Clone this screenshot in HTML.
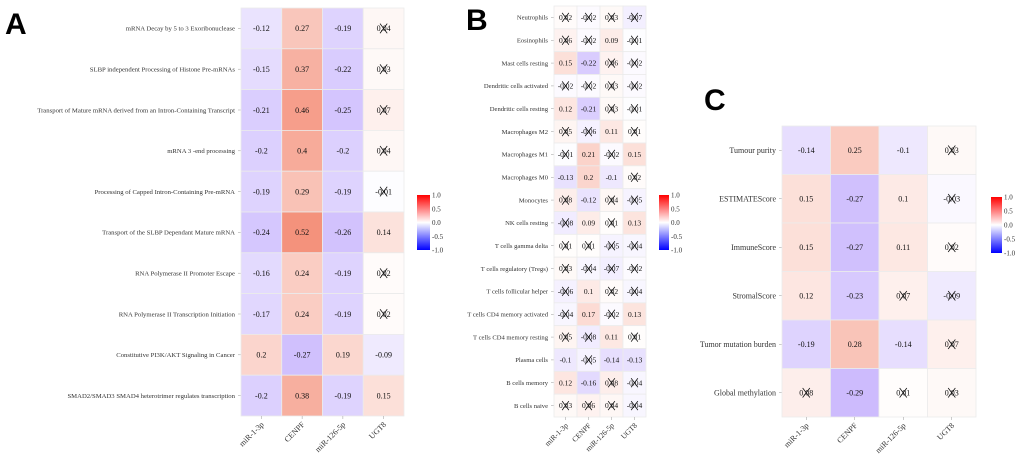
<!DOCTYPE html>
<html><head><meta charset="utf-8"><style>
body{margin:0;background:#fff;width:1020px;height:460px;overflow:hidden}
#fig text.s{font-family:"Liberation Serif","Times New Roman","DejaVu Serif",serif}
</style></head><body>
<svg id="fig" width="1020" height="460" xmlns="http://www.w3.org/2000/svg">
<defs><linearGradient id="cb" x1="0" y1="0" x2="0" y2="1">
<stop offset="0" stop-color="#ff0000"/><stop offset="0.5" stop-color="#ffffff"/><stop offset="1" stop-color="#0000ff"/></linearGradient></defs>
<text x="5" y="34" font-weight="bold" font-size="30" font-family="Liberation Sans, sans-serif">A</text>
<text x="466" y="30" font-weight="bold" font-size="30" font-family="Liberation Sans, sans-serif">B</text>
<text x="704" y="110" font-weight="bold" font-size="30" font-family="Liberation Sans, sans-serif">C</text>
</svg>
<script>
const cols = ["miR-1-3p","CENPF","miR-126-5p","UGT8"];
const rowsA = ["mRNA Decay by 5  to 3  Exoribonuclease","SLBP independent Processing of Histone Pre-mRNAs","Transport of Mature mRNA derived from an Intron-Containing Transcript","mRNA 3 -end processing","Processing of Capped Intron-Containing Pre-mRNA","Transport of the SLBP Dependant Mature mRNA","RNA Polymerase II Promoter Escape","RNA Polymerase II Transcription Initiation","Constitutive PI3K/AKT Signaling in Cancer","SMAD2/SMAD3 SMAD4 heterotrimer regulates transcription"];
const valsA = [[-0.12,0.27,-0.19,0.04],[-0.15,0.37,-0.22,0.03],[-0.21,0.46,-0.25,0.07],[-0.2,0.4,-0.2,0.04],[-0.19,0.29,-0.19,-0.01],[-0.24,0.52,-0.26,0.14],[-0.16,0.24,-0.19,0.02],[-0.17,0.24,-0.19,0.02],[0.2,-0.27,0.19,-0.09],[-0.2,0.38,-0.19,0.15]];
const sigA = [[1,1,1,0],[1,1,1,0],[1,1,1,0],[1,1,1,0],[1,1,1,0],[1,1,1,1],[1,1,1,0],[1,1,1,0],[1,1,1,1],[1,1,1,1]];
const rowsB = ["Neutrophils","Eosinophils","Mast cells resting","Dendritic cells activated","Dendritic cells resting","Macrophages M2","Macrophages M1","Macrophages M0","Monocytes","NK cells resting","T cells gamma delta","T cells regulatory (Tregs)","T cells follicular helper","T cells CD4 memory activated","T cells CD4 memory resting","Plasma cells","B cells memory","B cells naive"];
const valsB = [[0.02,-0.02,0.03,-0.07],[0.06,-0.02,0.09,-0.01],[0.15,-0.22,0.06,-0.02],[-0.02,-0.02,0.03,-0.02],[0.12,-0.21,0.03,-0.01],[0.05,-0.06,0.11,0.01],[-0.01,0.21,-0.02,0.15],[-0.13,0.2,-0.1,0.02],[0.08,-0.12,0.04,-0.05],[-0.08,0.09,0.01,0.13],[0.01,0.01,-0.05,-0.04],[0.03,-0.04,-0.07,-0.02],[-0.06,0.1,0.02,-0.04],[-0.04,0.17,-0.02,0.13],[0.05,-0.08,0.11,0.01],[-0.1,-0.05,-0.14,-0.13],[0.12,-0.16,0.08,-0.04],[0.03,0.06,0.04,-0.04]];
const sigB = [[0,0,0,0],[0,0,1,0],[1,1,0,0],[0,0,0,0],[1,1,0,0],[0,0,1,0],[0,1,0,1],[1,1,1,0],[0,1,0,0],[0,1,0,1],[0,0,0,0],[0,0,0,0],[0,1,0,0],[0,1,0,1],[0,0,1,0],[1,0,1,1],[1,1,0,0],[0,0,0,0]];
const rowsC = ["Tumour purity","ESTIMATEScore","ImmuneScore","StromalScore","Tumor mutation burden","Global methylation"];
const valsC = [[-0.14,0.25,-0.1,0.03],[0.15,-0.27,0.1,-0.03],[0.15,-0.27,0.11,0.02],[0.12,-0.23,0.07,-0.09],[-0.19,0.28,-0.14,0.07],[0.08,-0.29,0.01,0.03]];
const sigC = [[1,1,1,0],[1,1,1,0],[1,1,1,0],[1,1,0,0],[1,1,1,0],[0,1,0,0]];

const NS="http://www.w3.org/2000/svg", svg=document.getElementById('fig');
function mk(tag,attrs,parent){const e=document.createElementNS(NS,tag);for(const k in attrs)e.setAttribute(k,attrs[k]);(parent||svg).appendChild(e);return e;}
function txt(attrs,parent,str){const t=mk('text',attrs,parent);t.setAttribute('class','s');t.style.fontFamily='"Liberation Serif","Times New Roman","DejaVu Serif",serif';t.textContent=str;return t;}
function color(v){const a=Math.min(1,Math.abs(v)*1.2);
 const end=v>=0?[238,80,45]:[110,60,250];
 const c=end.map(x=>Math.round(255+(x-255)*a));return `rgb(${c[0]},${c[1]},${c[2]})`;}
function fmt(v){return String(v);}

function panel(id,rows,vals,sig,x0,x1,y0,y1,fs,lfs,cbx,cby,cbw,cbh){
 const g=mk('g',{});
 
 
 const cw=(x1-x0)/cols.length, rh=(y1-y0)/rows.length;
 const xc=j=>x0+cw*(j+0.5), yc=i=>y0+rh*(i+0.5);
 rows.forEach((r,i)=>{
  const t=txt({x:x0-6,y:yc(i)+lfs*0.35,'text-anchor':'end','font-size':lfs,fill:'#333'},g,r);
  
  
  mk('line',{x1:x0-3,x2:x0,y1:yc(i),y2:yc(i),stroke:'#999','stroke-width':0.5},g);
  cols.forEach((c,j)=>{
   const v=vals[i][j];
   const rc=mk('rect',{x:x0+cw*j,y:y0+rh*i,width:cw,height:rh,fill:color(v),stroke:'#ebebeb','stroke-width':0.8},g);
   
   
   const tx=txt({x:xc(j),y:yc(i)+fs*0.35,'text-anchor':'middle','font-size':fs,fill:'#111'},g,fmt(v));
   
   
   if(!sig[i][j]){const h=fs*0.6,w=fs*0.45;
    mk('line',{x1:xc(j)-w,y1:yc(i)-h,x2:xc(j)+w,y2:yc(i)+h,stroke:'#111','stroke-width':0.8},g);
    mk('line',{x1:xc(j)-w,y1:yc(i)+h,x2:xc(j)+w,y2:yc(i)-h,stroke:'#111','stroke-width':0.8},g);}
  });
 });
 cols.forEach((c,j)=>{
  mk('line',{x1:xc(j),x2:xc(j),y1:y1,y2:y1+3,stroke:'#999','stroke-width':0.5},g);
  const t=txt({x:xc(j)+3,y:y1+9,'text-anchor':'end','font-size':fs,fill:'#333',transform:`rotate(-45 ${xc(j)+3} ${y1+9})`},g,c);
  
  
 });
 const cb=mk('rect',{x:cbx,y:cby,width:cbw,height:cbh,fill:'url(#cb)'},g);
 
 
 ["1.0","0.5","0.0","-0.5","-1.0"].forEach((l,k)=>{
  const t=txt({x:cbx+cbw+2,y:cby+cbh*k/4+2.5,'font-size':7,fill:'#333'},g,l);
  
  
 });
}
panel('panel-a',rowsA,valsA,sigA,241,404,8,416,8,6.7,417,195,13,55);
panel('panel-b',rowsB,valsB,sigB,554,646,6,417,7.5,6.6,659,195,10,55);
panel('panel-c',rowsC,valsC,sigC,782,976,126,417,8,8,991,197,11,56);
</script>
</body></html>
